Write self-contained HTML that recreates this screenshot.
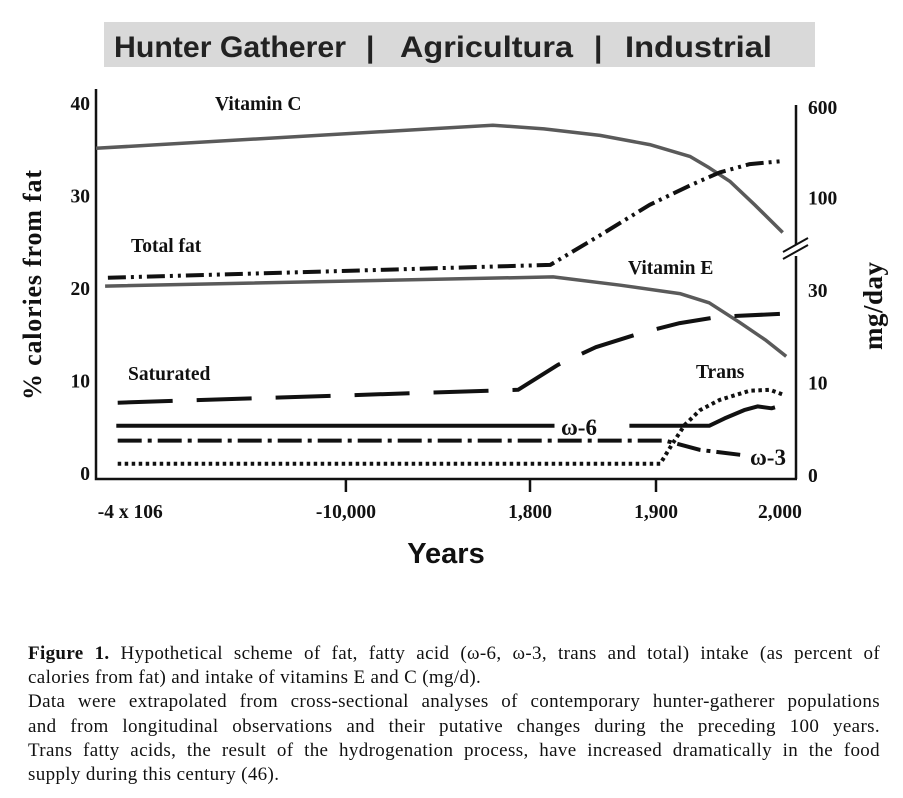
<!DOCTYPE html>
<html><head><meta charset="utf-8"><style>
body{margin:0;background:#fff;width:903px;height:798px;overflow:hidden;position:relative;font-family:"Liberation Serif",serif}
.cap{position:absolute;left:28px;width:852px;top:642px;font-size:19px;letter-spacing:0.35px;line-height:24.2px;color:#111}
.cap div{text-align:justify;text-align-last:justify;white-space:nowrap}
.cap div.l{text-align-last:left}
</style></head><body>
<svg width="903" height="620" style="position:absolute;left:0;top:0">
<rect x="104" y="22" width="711" height="45" fill="#d9d9d9"/>
<g font-family="Liberation Sans, sans-serif" font-weight="bold" font-size="30" fill="#222">
<text x="114" y="57" textLength="232" lengthAdjust="spacingAndGlyphs">Hunter Gatherer</text><text x="366" y="57">|</text>
<text x="400" y="57" textLength="173" lengthAdjust="spacingAndGlyphs">Agricultura</text><text x="594" y="57">|</text>
<text x="625" y="57" textLength="147" lengthAdjust="spacingAndGlyphs">Industrial</text></g>
<g stroke="#111" stroke-width="2.5" fill="none">
<path d="M96,89V479H797"/><path d="M796,105V245M796,256V479"/>
<path d="M783,252L808,238M783,259L808,245" stroke-width="2"/>
</g>
<g id="ticks"></g><g id="series"></g>
<g font-family="Liberation Serif, serif" font-weight="bold" font-size="19.5" fill="#111" id="labels"></g>
<g font-family="Liberation Serif, serif" font-weight="bold" font-size="19.5" fill="#111">
<text x="215" y="110">Vitamin C</text><text x="131" y="252">Total fat</text>
<text x="628" y="274">Vitamin E</text><text x="128" y="380">Saturated</text>
<text x="696" y="378">Trans</text>
<text x="561" y="435" font-size="23">ω-6</text><text x="750" y="465" font-size="23">ω-3</text></g>
<text transform="translate(41,285) rotate(-90)" text-anchor="middle" font-family="Liberation Serif, serif" font-weight="bold" font-size="26" fill="#111" textLength="230">% calories from fat</text>
<text transform="translate(882,306) rotate(-90)" text-anchor="middle" font-family="Liberation Serif, serif" font-weight="bold" font-size="27" fill="#111" textLength="88">mg/day</text>
<text x="446" y="563" text-anchor="middle" font-family="Liberation Sans, sans-serif" font-weight="bold" font-size="29" fill="#111">Years</text>
</svg>
<div class="cap">
<div><b>Figure 1.</b> Hypothetical scheme of fat, fatty acid (ω-6, ω-3, trans and total) intake (as percent of</div>
<div class="l">calories from fat) and intake of vitamins E and C (mg/d).</div>
<div>Data were extrapolated from cross-sectional analyses of contemporary hunter-gatherer populations</div>
<div>and from longitudinal observations and their putative changes during the preceding 100 years.</div>
<div>Trans fatty acids, the result of the hydrogenation process, have increased dramatically in the food</div>
<div class="l">supply during this century (46).</div>
</div>
<script>
const yTicks=[0,10,20,30,40];
const y2Labels=["0","10","30","100","600"];
const y2Pos=[0,10,20,30,40];
const xTickLabels=["-4 x 106","-10,000","1,800","1,900","2,000"];
const xTickPos=[4.9,35.7,62,80,97.7];
const xTickMarks=[false,true,true,true,false];
const vitCx=[0,56.7,64,72,79.1,84.9,87.6,90.6,94.1,98.1];const vitCy=[35.1,37.6,37.2,36.5,35.5,34.2,33,31.5,29,26];
const totX=[1.7,64.9,72,79.1,84.9,89.1,93.4,97.7];const totY=[21.1,22.5,25.7,29,31.1,32.5,33.4,33.7];
const vitEx=[1.3,65.3,74.9,83.4,87.6,91.9,95.6,98.6];const vitEy=[20.2,21.2,20.3,19.4,18.4,16.3,14.4,12.6];
const satX=[3.1,60.3,66,71.4,77.7,83.4,89.1,97.7];const satY=[7.6,9,11.7,13.6,15.1,16.2,16.9,17.2];
const w6X=[2.9,65.5,76.2,87.6,89.8,92.6,94.5,96.5,97];const w6Y=[5.1,5.1,5.1,5.1,5.9,6.8,7.2,7,7.1];
const w3X=[3.1,81.3,86.3,92.7];const w3Y=[3.5,3.5,2.5,1.9];
const trX=[3.1,80.6,82.3,84.1,86.3,89.1,93.4,96.3,98.4];const trY=[1,1,3.1,5.2,6.8,7.9,8.9,9,8.4];
const X=v=>96+v*7;const Y=v=>473-v*9.25;
const NS="http://www.w3.org/2000/svg";
function mk(t,a,p){const e=document.createElementNS(NS,t);for(const k in a)e.setAttribute(k,a[k]);p.appendChild(e);return e;}
const tg=document.getElementById('ticks'),lg=document.getElementById('labels'),sg=document.getElementById('series');
yTicks.forEach(v=>{const t=mk('text',{x:90,y:Y(v)+7,'text-anchor':'end'},lg);t.textContent=v;

});
y2Pos.forEach((v,i)=>{const t=mk('text',{x:808,y:Y(v)+9+(i==4?2:0)},lg);t.textContent=y2Labels[i];

});
xTickLabels.forEach((s,i)=>{const x=X(xTickPos[i]);const t=mk('text',{x:x,y:518,'text-anchor':'middle'},lg);t.textContent=s;


if(xTickMarks[i]){const m=mk('line',{x1:x,x2:x,y1:479,y2:492,stroke:'#111','stroke-width':2.5},tg);

}});
function line(xs,ys,st,name){const d=xs.map((x,i)=>(i?'L':'M')+X(x).toFixed(1)+','+Y(ys[i]).toFixed(1)).join('');
const p=mk('path',Object.assign({d:d,fill:'none','stroke-linejoin':'round'},st),sg);

}
line(vitCx,vitCy,{stroke:'#5a5a5a','stroke-width':3.5},'vitamin-c-line');
line(vitEx,vitEy,{stroke:'#5a5a5a','stroke-width':3.5},'vitamin-e-line');
line(totX,totY,{stroke:'#111','stroke-width':4,'stroke-dasharray':'18 5 3 5 3 5'},'total-fat-line');
line(satX,satY,{stroke:'#111','stroke-width':4,'stroke-dasharray':'55 24'},'saturated-line');
line(w6X.slice(0,2),w6Y.slice(0,2),{stroke:'#111','stroke-width':4},'omega-6-line');
line(w6X.slice(2),w6Y.slice(2),{stroke:'#111','stroke-width':4},'omega-6-line-late');
line(w3X,w3Y,{stroke:'#111','stroke-width':4,'stroke-dasharray':'24 6 4 6'},'omega-3-line');
line(trX,trY,{stroke:'#111','stroke-width':4,'stroke-dasharray':'3.5 3.5'},'trans-line');
</script>
</body></html>
